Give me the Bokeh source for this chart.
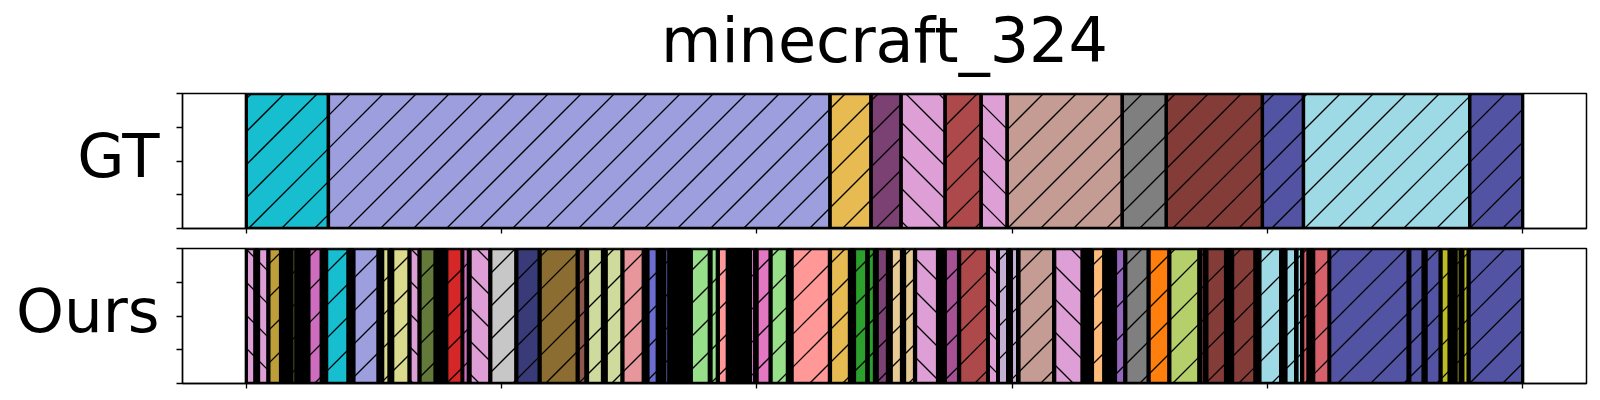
from bokeh.plotting import figure
from bokeh.layouts import column
from bokeh.models import (Range1d, FixedTicker, ColumnDataSource, CustomJSTickFormatter,
                          LinearAxis)
from bokeh.embed import file_html
from bokeh.resources import INLINE

TITLE = "minecraft_324"
T = 1275  # sequence length (frames)

# class id -> colour / hatch direction
class_color = {
    0: "#17becf", 1: "#9c9ede", 2: "#e7ba52", 3: "#7b4173", 4: "#de9ed6",
    5: "#ad494a", 6: "#c49c94", 7: "#7f7f7f", 8: "#843c39", 9: "#5254a3",
    10: "#9edae5", 11: "#bd9e39", 12: "#637939", 13: "#ce6dbd", 14: "#dbdb8d",
    15: "#d62728", 16: "#c7c7c7", 17: "#393b79", 18: "#8c6d31", 19: "#8c564b",
    20: "#cedb9c", 21: "#e7969c", 22: "#6b6ecf", 23: "#98df8a", 24: "#ff9896",
    25: "#e377c2", 26: "#2ca02c", 27: "#e7cb94", 28: "#a55194", 29: "#c5b0d5",
    30: "#ffbb78", 31: "#9467bd", 32: "#ff7f0e", 33: "#b5cf6b", 34: "#d6616b",
    35: "#bcbd22",
}
class_hatch = {k: "/" for k in class_color}
class_hatch[4] = "\\"

# Ground truth segments
gt_start = [0, 82, 583, 624, 654, 698, 734, 760, 875, 919, 1015, 1056, 1222]
gt_end = [82, 583, 624, 654, 698, 734, 760, 875, 919, 1015, 1056, 1222, 1275]
gt_class = [0, 1, 2, 3, 4, 5, 4, 6, 7, 8, 9, 10, 9]

# Predicted segments (gaps are very short segments that render black)
ours_start = [0, 12.2, 22.5, 45.5, 62.5, 80.2, 107.5, 136.2, 146.2, 163.5, 173.5, 200.2,
              216.2, 223.5, 244.2, 270.2, 293.5, 331.5, 340.8, 359.5, 376.2, 401.2, 418,
              444.5, 464.2, 471.5, 503.5, 510.2, 524.2, 545.2, 583.5, 607.5, 621.2, 630.2,
              644.2, 657.5, 668.5, 698.2, 712.5, 741.2, 751.2, 764.2, 771.8, 807.5, 845.2,
              868.2, 878.5, 901.8, 922.5, 953, 959.5, 985.2, 1012.5, 1038.5, 1049.5, 1055.2,
              1066.2, 1082.2, 1162.2, 1178.5, 1193.5, 1208.5, 1215.2, 1221.5]
ours_end = [8.5, 21.5, 34.2, 49.5, 74.8, 101.5, 131.5, 142.5, 162.5, 172.5, 188.5, 215.5,
            221.8, 243.2, 269.2, 292.5, 330.5, 339.2, 355.8, 375.2, 396.5, 410.5, 422,
            462.5, 470.5, 480.5, 507.8, 523.2, 540.5, 582.5, 602.5, 619.8, 627.5, 640.5,
            654.5, 667.5, 690.5, 711.5, 740.5, 750.5, 760.5, 770.5, 806.5, 834.8, 856.5,
            877.5, 900.8, 921.5, 951.5, 957, 978.2, 1007.5, 1033.2, 1048.2, 1054.2, 1060.5,
            1081.5, 1160.5, 1175.5, 1192.5, 1201.5, 1212.5, 1220.5, 1275]
ours_class = [4, 4, 11, 12, 13, 0, 1, 14, 14, 4, 12, 15,
              13, 4, 16, 17, 18, 19, 20, 20, 21, 22, 22,
              23, 23, 24, 13, 25, 23, 24, 2, 26, 26, 3,
              27, 27, 4, 28, 5, 4, 29, 29, 6, 4, 30,
              31, 7, 32, 33, 8, 8, 8, 10, 10, 10, 34,
              34, 9, 9, 9, 35, 35, 35, 9]

FONT = "DejaVu Sans"
FW, FH = 1404, 135          # frame size in px
X0, X1 = -0.05 * T, 1.05 * T
KX = FW / (X1 - X0)         # px per data unit along x
SP = 33.0                   # hatch spacing in px
LABEL_Y = 0.54              # vertical anchor of the row label


def hatch_segments(starts, ends, classes):
    """45-degree hatch lines clipped to each segment (computed in screen space)."""
    xs0, ys0, xs1, ys1 = [], [], [], []
    for l, r, c in zip(starts, ends, classes):
        ul, ur = (l - X0) * KX, (r - X0) * KX
        if class_hatch[c] == "/":
            k = int((ul - FH) // SP)
            while k * SP <= ur:
                cc = k * SP
                va, vb = max(0.0, ul - cc), min(FH, ur - cc)
                if vb > va:
                    xs0.append((cc + va) / KX + X0); ys0.append(va / FH)
                    xs1.append((cc + vb) / KX + X0); ys1.append(vb / FH)
                k += 1
        else:
            k = int(ul // SP)
            while k * SP <= ur + FH:
                cc = k * SP
                va, vb = max(0.0, cc - ur), min(FH, cc - ul)
                if vb > va:
                    xs0.append((cc - va) / KX + X0); ys0.append(va / FH)
                    xs1.append((cc - vb) / KX + X0); ys1.append(vb / FH)
                k += 1
    return xs0, ys0, xs1, ys1


def panel(name, starts, ends, classes, title=None, top=10, bottom=10, black_bg=False):
    p = figure(frame_width=FW, frame_height=FH,
               x_range=Range1d(X0, X1), y_range=Range1d(0, 1),
               output_backend="svg", toolbar_location=None, title=None,
               min_border_left=182, min_border_right=6,
               min_border_top=top, min_border_bottom=bottom)
    p.grid.visible = False
    p.outline_line_color = "black"
    p.outline_line_width = 1.5
    for ax in (p.xaxis, p.yaxis):
        ax.formatter = CustomJSTickFormatter(code="return ''")
        ax.major_label_standoff = 0
        ax.minor_tick_line_color = None
        ax.major_tick_in = 0
        ax.major_tick_line_width = 1.3
        ax.axis_line_width = 1.3
    p.xaxis.major_tick_out = 5
    p.yaxis.major_tick_out = 6
    p.xaxis.ticker = FixedTicker(ticks=[i * T / 5 for i in range(6)])
    p.yaxis.ticker = FixedTicker(ticks=[0, 0.25, 0.5, 0.75, 1.0])

    # row label ("GT" / "Ours") drawn as the single tick label of an extra left axis
    lab = LinearAxis(ticker=FixedTicker(ticks=[LABEL_Y]),
                     formatter=CustomJSTickFormatter(code="return %r" % name),
                     axis_line_color=None, major_tick_line_color=None,
                     minor_tick_line_color=None, major_tick_out=0, major_tick_in=0,
                     major_label_standoff=17,
                     major_label_text_font=FONT, major_label_text_font_size="61px",
                     major_label_text_color="black")
    p.add_layout(lab, "left")

    if title:
        # figure title drawn as the single label of an axis above the frame
        tax = LinearAxis(ticker=FixedTicker(ticks=[T / 2]),
                         formatter=CustomJSTickFormatter(code="return %r" % title),
                         axis_line_color=None, major_tick_line_color=None,
                         minor_tick_line_color=None, major_tick_out=0, major_tick_in=0,
                         major_label_standoff=17,
                         major_label_text_font=FONT, major_label_text_font_size="62px",
                         major_label_text_color="black")
        p.add_layout(tax, "above")

    if black_bg:
        p.quad(left=[min(starts)], right=[max(ends)], bottom=[0], top=[1],
               fill_color="black", line_color=None)
    src = ColumnDataSource(dict(
        left=starts, right=ends,
        color=[class_color[c] for c in classes],
    ))
    p.quad(left="left", right="right", bottom=0, top=1, source=src,
           fill_color="color", line_color=None)
    hx0, hy0, hx1, hy1 = hatch_segments(starts, ends, classes)
    p.segment(x0=hx0, y0=hy0, x1=hx1, y1=hy1, line_color="black", line_width=1.3)
    p.quad(left="left", right="right", bottom=0, top=1, source=src,
           fill_color=None, line_color="black", line_width=3.3)
    return p


p1 = panel("GT", gt_start, gt_end, gt_class, title=TITLE, top=90, bottom=10)
p2 = panel("Ours", ours_start, ours_end, ours_class, top=10, bottom=10, black_bg=True)

layout = column(p1, p2, spacing=0)
open("out.html", "w").write(file_html(layout, INLINE))
